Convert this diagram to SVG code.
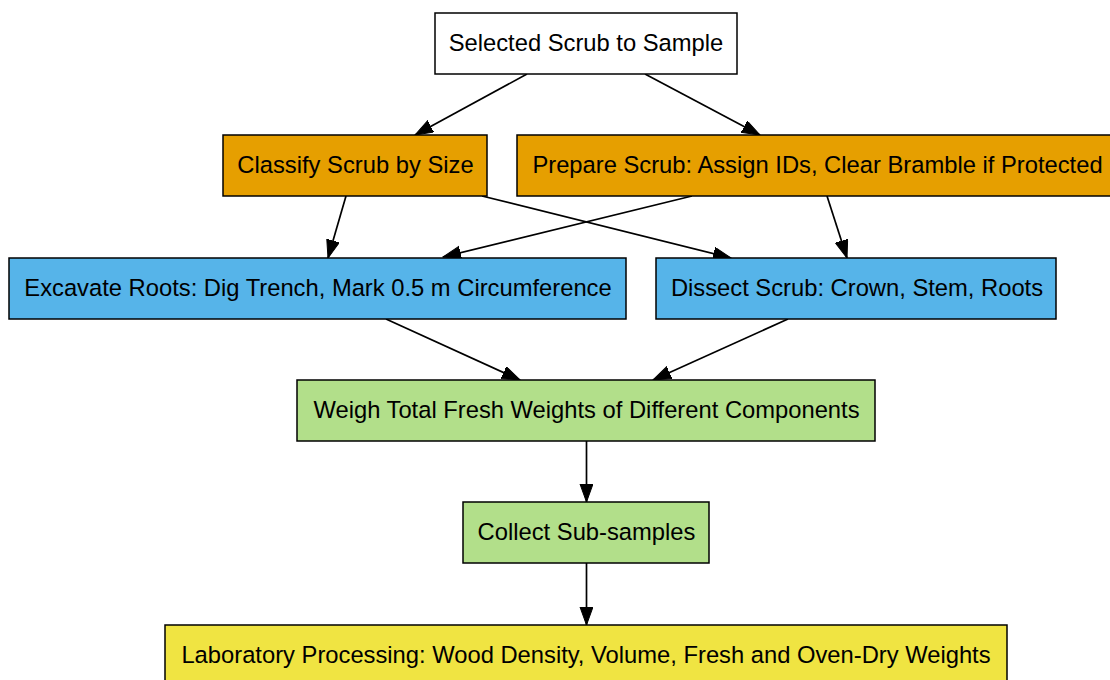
<svg xmlns="http://www.w3.org/2000/svg" width="1110" height="680" viewBox="0 0 1110 680">
  <style>
    .box { stroke: #000000; stroke-width: 1.5; }
    .start { fill: #ffffff; }
    .prep { fill: #e69f00; }
    .field { fill: #56b4e9; }
    .weigh { fill: #b2df8a; }
    .lab { fill: #f0e442; }
    .label { font-family: "Liberation Sans", Arial, sans-serif; font-size: 23.75px; fill: #000000; text-anchor: middle; }
    .edge { stroke: #000000; stroke-width: 1.7; fill: none; marker-end: url(#arrow); }
  </style>
  <defs>
    <marker id="arrow" markerUnits="userSpaceOnUse" markerWidth="19" markerHeight="15" refX="18" refY="6.5" orient="auto">
      <path d="M0,0 L18,6.5 L0,13 Z" fill="#000000" stroke="#000000" stroke-width="1"/>
    </marker>
  </defs>
  <rect width="1110" height="680" fill="#ffffff"/>

  <!-- connectors -->
  <g id="edges">
    <line class="edge" x1="527" y1="74" x2="415" y2="135"/>
    <line class="edge" x1="645" y1="74" x2="760" y2="135"/>
    <line class="edge" x1="346" y1="196" x2="328" y2="258"/>
    <line class="edge" x1="482" y1="196" x2="731" y2="258"/>
    <line class="edge" x1="692" y1="196" x2="443" y2="257"/>
    <line class="edge" x1="827" y1="196" x2="847" y2="258"/>
    <line class="edge" x1="386" y1="319" x2="520" y2="380"/>
    <line class="edge" x1="788" y1="319" x2="653" y2="380"/>
    <line class="edge" x1="586.5" y1="441" x2="586.5" y2="502"/>
    <line class="edge" x1="586.5" y1="563" x2="586.5" y2="625"/>
  </g>

  <g id="select">
    <rect class="box start" x="435" y="13" width="302" height="61"/>
    <text class="label" x="586" y="51">Selected Scrub to Sample</text>
  </g>

  <g id="classify">
    <rect class="box prep" x="223" y="135" width="264" height="61"/>
    <text class="label" x="355.5" y="173">Classify Scrub by Size</text>
  </g>

  <g id="prepare">
    <rect class="box prep" x="517" y="135" width="601" height="61"/>
    <text class="label" x="817.5" y="173">Prepare Scrub: Assign IDs, Clear Bramble if Protected</text>
  </g>

  <g id="excavate">
    <rect class="box field" x="9" y="258" width="617" height="61"/>
    <text class="label" x="318" y="296">Excavate Roots: Dig Trench, Mark 0.5 m Circumference</text>
  </g>

  <g id="dissect">
    <rect class="box field" x="656" y="258" width="400" height="61"/>
    <text class="label" x="857" y="296">Dissect Scrub: Crown, Stem, Roots</text>
  </g>

  <g id="weigh">
    <rect class="box weigh" x="297" y="380" width="578" height="61"/>
    <text class="label" x="586.5" y="418">Weigh Total Fresh Weights of Different Components</text>
  </g>

  <g id="subsample">
    <rect class="box weigh" x="463" y="502" width="246" height="61"/>
    <text class="label" x="586.5" y="540">Collect Sub-samples</text>
  </g>

  <g id="laboratory">
    <rect class="box lab" x="165" y="625" width="842" height="61"/>
    <text class="label" x="586" y="663">Laboratory Processing: Wood Density, Volume, Fresh and Oven-Dry Weights</text>
  </g>
</svg>
